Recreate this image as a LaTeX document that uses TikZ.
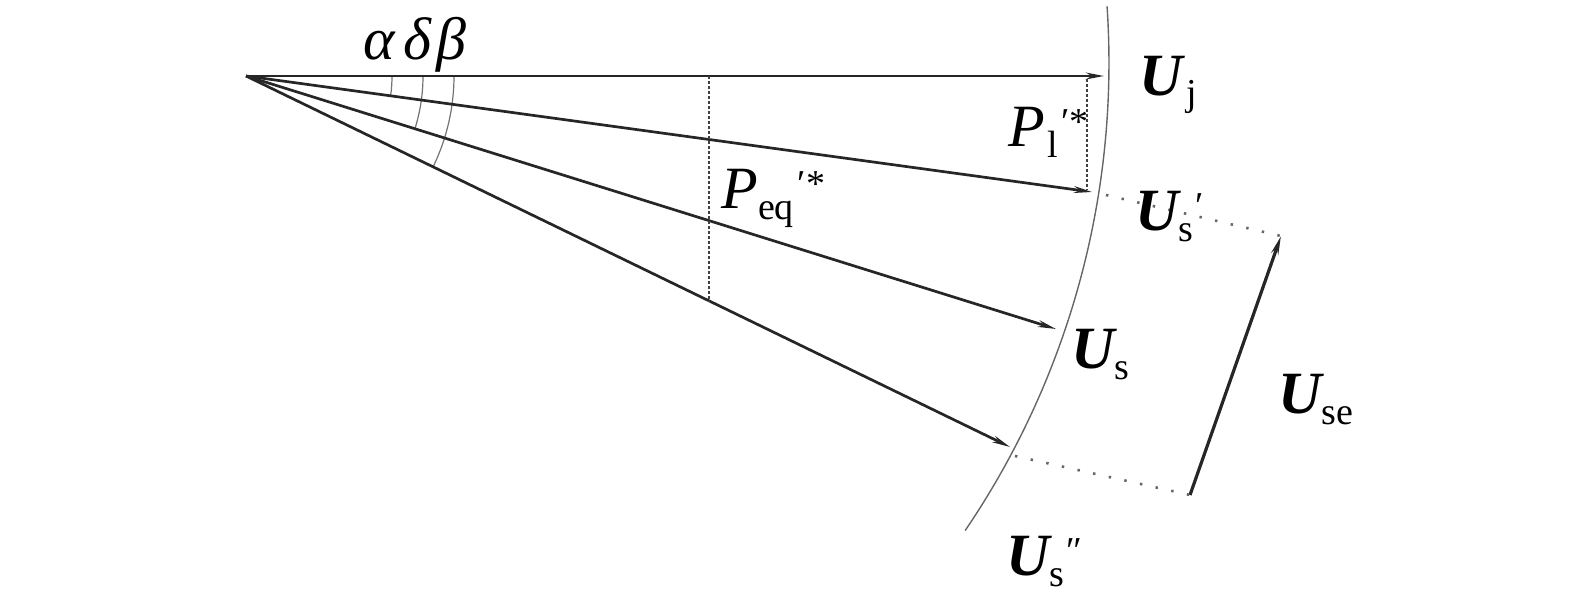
\documentclass[tikz,border=0pt]{standalone}
\usepackage{fontspec}
\setmainfont{Liberation Serif}
\usetikzlibrary{arrows.meta,calc}
\newcommand{\Ubf}{{\bfseries\itshape U}}
\newcommand{\lbsub}[1]{\raisebox{-5.5pt}{\fontsize{19}{21}\selectfont #1}}
\newcommand{\lbsup}[1]{\raisebox{6pt}{\fontsize{19}{21}\selectfont #1}}
\tikzset{
  vec/.style={line width=1.35pt, draw=black!85, -{Stealth[length=9pt,width=3.4pt]}},
  dsh/.style={line width=1.1pt, draw=black!75, dash pattern=on 1.5pt off 1pt},
  dts/.style={line width=1.3pt, draw=black!60, dash pattern=on 1.2pt off 6.8pt},
  thin arc/.style={line width=0.6pt, draw=black!55},
  lbl/.style={anchor=base west, inner sep=0pt, font=\fontsize{30}{34}\selectfont}
}
\begin{document}
\begin{tikzpicture}[x=0.5pt,y=-0.5pt]
\useasboundingbox (0,0) rectangle (1575,605);
% key points
\coordinate (O) at (246,76);
\coordinate (C) at (277,63);
\coordinate (Uj) at (1104,76);
\coordinate (Us1) at (1092,192);
\coordinate (Us) at (1056,329);
\coordinate (Us2) at (1010,447);
\coordinate (SeTop) at (1281,236);
\coordinate (SeBot) at (1190,495);
\coordinate (D1a) at (1106,195);
\coordinate (D2a) at (1015,456);
\coordinate (Pq1) at (709,76);
\coordinate (Pq2) at (709,302);
\coordinate (Pl1) at (1087,79);
\coordinate (Pl2) at (1087,190);
% big arc
\draw[line width=0.7pt, draw=black!60] ($(C)+(-3.9:832)$) arc[start angle=-3.9, end angle=34.2, radius=832];
% angle arcs
\draw[thin arc] ($(O)+(0:146)$) arc[start angle=0, end angle=7.83, radius=146];
\draw[thin arc] ($(O)+(0:177)$) arc[start angle=0, end angle=17.43, radius=177];
\draw[thin arc] ($(O)+(0:208)$) arc[start angle=0, end angle=25.84, radius=208];
% vectors
\draw[vec] (O) -- (Uj);
\draw[vec] (O) -- (Us1);
\draw[vec] (O) -- (Us);
\draw[vec] (O) -- (Us2);
\draw[vec, line width=1.6pt] (SeBot) -- (SeTop);
% dashed
\draw[dsh] (Pq1) -- (Pq2);
\draw[dsh] (Pl1) -- (Pl2);
% dotted
\draw[dts] (D1a) -- (SeTop);
\draw[dts] (D2a) -- (SeBot);
% labels
\node[lbl] (la) at (363,60) {\itshape α};
\node[lbl] (ld) at (403,60) {\itshape δ};
\node[lbl] (lb) at (436,60) {\itshape β};
\node[lbl] (lUj) at (1139,95) {\Ubf\kern2pt\lbsub{j}};
\node[lbl] (lP1) at (1008,146) {\itshape P\kern1pt\lbsub{\upshape l}\kern2pt\lbsup{\upshape ′*}};
\node[lbl] (lUs1) at (1135,230) {\Ubf\lbsub{s}\kern1pt\lbsup{′}};
\node[lbl] (lPeq) at (721,208) {\itshape P\lbsub{\upshape eq}\kern2pt\lbsup{\upshape ′*}};
\node[lbl] (lUs) at (1071,368) {\Ubf\lbsub{s}};
\node[lbl] (lUse) at (1278,413) {\Ubf\lbsub{se}};
\node[lbl] (lUs2) at (1006,575) {\Ubf\lbsub{s}\kern1pt\lbsup{″}};
\end{tikzpicture}
\end{document}
